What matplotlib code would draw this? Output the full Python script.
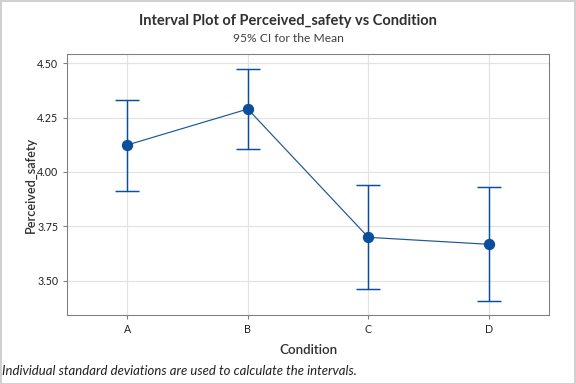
import numpy as np
import matplotlib
matplotlib.use("Agg")
import matplotlib.pyplot as plt

plt.rcParams['font.family'] = ['Lato', 'DejaVu Sans']

# data
conditions = ['A', 'B', 'C', 'D']
means = [4.124, 4.289, 3.700, 3.668]
upper = [4.330, 4.472, 3.942, 3.930]
lower = [3.913, 4.105, 3.462, 3.407]
yticks = [3.50, 3.75, 4.00, 4.25, 4.50]

blue = '#0B4F9C'
x = np.arange(len(conditions))
err = [np.array(means) - np.array(lower), np.array(upper) - np.array(means)]

fig = plt.figure(figsize=(6, 4), dpi=96)
ax = fig.add_axes([0.1163, 0.180, 0.837, 0.679])

ax.plot(x, means, '-', color='#1F5A8F', lw=0.9, zorder=3)
ax.errorbar(x, means, yerr=err, fmt='none', ecolor=blue, elinewidth=1.1,
            capsize=9, capthick=1.1, zorder=2)
ax.plot(x, means, 'o', color=blue, ms=7.5, zorder=4)

ax.set_xlim(-0.5, 3.5)
ax.set_ylim(3.344, 4.541)
ax.set_xticks(x)
ax.set_xticklabels(conditions)
ax.set_yticks(yticks)
ax.set_yticklabels(['%.2f' % v for v in yticks])
ax.grid(True, color='#E3E3E3', lw=0.9)
ax.set_axisbelow(True)
for s in ax.spines.values():
    s.set_color('#7F7F7F')
ax.tick_params(labelsize=8, colors='#7F7F7F', labelcolor='#202020', length=3)

ax.set_xlabel('Condition', fontsize=10, fontweight='semibold', color='#303030', labelpad=7)
ax.set_ylabel('Perceived_safety', fontsize=9.5, fontweight='semibold', color='#303030', labelpad=0)

fig.text(0.5, 0.946, 'Interval Plot of Perceived_safety vs Condition',
         ha='center', va='center', fontsize=11, fontweight='bold', color='#303030')
fig.text(0.5, 0.900, '95% CI for the Mean', ha='center', va='center',
         fontsize=9, color='#404040')
fig.text(0.004, 0.033, 'Individual standard deviations are used to calculate the intervals.',
         ha='left', va='center', fontsize=9.8, style='italic', color='#202020')

# light frame round the whole picture
fig.patches.append(plt.Rectangle((0.001, 0.001), 0.997, 0.997, transform=fig.transFigure,
                                 fill=False, edgecolor='#D0D0D0', lw=1.5))

fig.savefig('out.png', dpi=96)
